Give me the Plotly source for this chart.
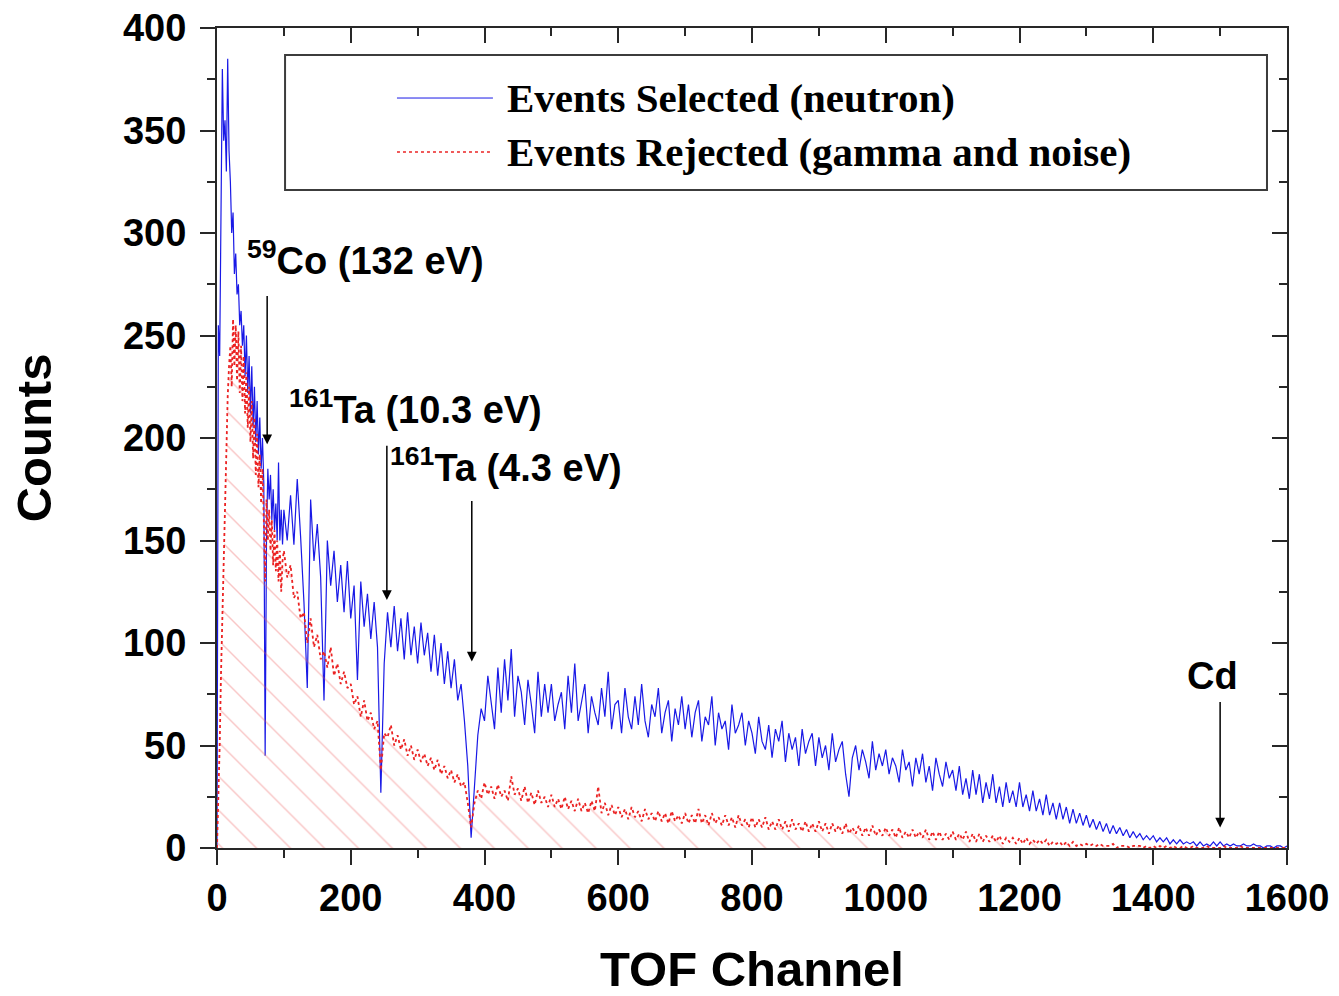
import plotly.graph_objects as go

# TOF channels: 2-channel bins over the fast region, 5-channel bins afterwards
ch_early = list(range(0, 100, 2))
ch_late = list(range(100, 1601, 5))

selected_early = [
    0, 255, 240, 300, 380, 345, 355, 330, 385, 340,
    325, 300, 310, 280, 290, 270, 275, 255, 262, 245,
    255, 230, 250, 222, 240, 212, 235, 205, 225, 198,
    218, 192, 210, 185, 200, 178, 45, 150, 185, 170,
    182, 160, 175, 155, 168, 150, 188, 150, 165, 148,
]
selected_late = [
    165, 150, 172, 148, 180, 152, 120, 78, 170, 140, 158, 132, 72, 150, 128, 145, 120, 138, 115, 140,
    112, 128, 82, 130, 108, 124, 102, 120, 98, 27, 90, 115, 98, 118, 96, 112, 92, 115, 94, 108,
    90, 110, 94, 105, 86, 104, 84, 100, 80, 96, 78, 92, 72, 80, 62, 40, 5, 30, 55, 68,
    62, 84, 70, 58, 88, 66, 92, 72, 97, 64, 84, 76, 60, 82, 70, 56, 86, 64, 80, 66,
    80, 62, 70, 76, 58, 84, 66, 90, 62, 72, 80, 56, 74, 66, 60, 78, 64, 86, 58, 70,
    72, 56, 78, 64, 58, 74, 60, 80, 62, 54, 70, 64, 78, 56, 66, 72, 52, 68, 60, 74,
    58, 70, 54, 66, 72, 52, 64, 60, 74, 50, 66, 58, 62, 48, 70, 56, 60, 66, 50, 62,
    56, 46, 64, 52, 48, 60, 44, 58, 52, 62, 42, 56, 48, 54, 40, 58, 46, 52, 56, 40,
    54, 44, 50, 38, 56, 42, 48, 52, 36, 25, 44, 50, 38, 48, 42, 34, 52, 38, 46, 40,
    48, 36, 44, 40, 32, 48, 38, 42, 30, 44, 36, 46, 32, 40, 28, 44, 36, 30, 42, 34,
    38, 28, 40, 26, 34, 24, 38, 26, 36, 22, 32, 24, 36, 22, 30, 20, 32, 22, 28, 20,
    32, 20, 26, 18, 28, 18, 24, 16, 26, 16, 22, 14, 22, 14, 20, 12, 19, 12, 17, 11,
    16, 10, 14, 9, 13, 8, 12, 7, 11, 7, 10, 6, 9, 5, 8, 5, 7, 4, 6, 4,
    6, 3, 5, 3, 5, 2, 4, 2, 4, 2, 3, 2, 3, 1, 3, 1, 2, 1, 3, 1,
    3, 1, 2, 1, 2, 1, 1, 2, 1, 1, 2, 1, 1, 0, 1, 1, 0, 1, 1, 0,
    1,
]

rejected_early = [
    0, 20, 50, 85, 115, 145, 175, 200, 220, 235,
    245, 225, 258, 235, 255, 228, 252, 222, 245, 218,
    240, 212, 232, 205, 225, 198, 218, 190, 210, 182,
    202, 176, 192, 168, 185, 160, 130, 170, 150, 165,
    145, 160, 138, 155, 135, 150, 130, 145, 125, 140,
]
rejected_late = [
    145, 132, 138, 122, 125, 112, 115, 100, 112, 98, 104, 92, 96, 88, 98, 84, 90, 80, 86, 78,
    80, 70, 74, 64, 72, 62, 66, 58, 62, 38, 56, 54, 60, 50, 55, 48, 53, 45, 50, 43,
    48, 42, 46, 40, 44, 38, 43, 36, 40, 34, 38, 32, 36, 30, 32, 22, 10, 22, 28, 24,
    32, 26, 30, 24, 31, 25, 28, 23, 35, 26, 29, 23, 30, 22, 27, 21, 28, 22, 25, 20,
    26, 20, 24, 19, 25, 19, 23, 18, 24, 18, 22, 17, 23, 18, 30, 17, 22, 16, 21, 16,
    20, 15, 19, 14, 20, 15, 18, 13, 19, 14, 17, 13, 18, 13, 17, 12, 18, 13, 16, 12,
    17, 12, 16, 12, 19, 12, 16, 11, 17, 12, 15, 11, 16, 11, 15, 10, 16, 11, 14, 10,
    15, 10, 14, 10, 15, 9, 13, 9, 14, 9, 13, 8, 14, 9, 12, 8, 13, 8, 12, 8,
    13, 8, 12, 7, 12, 8, 11, 7, 12, 7, 10, 7, 11, 6, 10, 6, 11, 6, 9, 6,
    10, 6, 9, 5, 10, 5, 8, 5, 9, 5, 8, 5, 9, 4, 8, 4, 8, 4, 7, 4,
    8, 4, 7, 4, 8, 3, 7, 3, 7, 3, 6, 3, 6, 3, 6, 2, 5, 3, 5, 2,
    5, 2, 5, 2, 4, 2, 4, 2, 4, 1, 3, 2, 3, 1, 3, 1, 3, 1, 2, 1,
    2, 1, 2, 1, 2, 1, 1, 1, 2, 0, 1, 1, 1, 0, 1, 1, 1, 0, 1, 0,
    1, 0, 1, 0, 1, 0, 1, 0, 0, 1, 0, 0, 1, 0, 0, 0, 1, 0, 0, 0,
    0, 1, 0, 0, 0, 0, 1, 0, 0, 0, 0, 0, 0, 0, 0, 0, 0, 0, 0, 0,
    0,
]

channels = ch_early + ch_late
selected = selected_early + selected_late
rejected = rejected_early + rejected_late

# resonance markers: (label, channel, label x, label y, arrow start y, arrow end y)
resonances = [
    ("<sup>59</sup>Co (132 eV)", 75, 42, 288, 270, 197),
    ("<sup>161</sup>Ta (10.3 eV)", 254, 105, 215, 197, 121),
    ("<sup>161</sup>Ta (4.3 eV)", 381, 256, 187, 170, 91),
    ("Cd", 1500, 1489, 84, 72, 10),
]

BLUE = "rgb(25,25,230)"
RED = "rgb(235,35,35)"
AXC = "rgb(40,40,40)"
SANS = "Liberation Sans, Arial, sans-serif"
SERIF = "Liberation Serif, Times New Roman, serif"

fig = go.Figure()

fig.add_trace(go.Scatter(
    x=channels, y=selected, mode="lines", name="Events Selected (neutron)",
    line=dict(color=BLUE, width=1.2), showlegend=False,
))
fig.add_trace(go.Scatter(
    x=channels, y=rejected, mode="lines", name="Events Rejected (gamma and noise)",
    line=dict(color=RED, width=1.8, dash="dot"), showlegend=False,
    fill="tozeroy", fillcolor="rgba(0,0,0,0)",
    fillpattern=dict(shape="\\", fgcolor="rgba(235,90,90,0.7)", size=24, solidity=0.06),
))
# carrier trace for the mirrored (top/right) axes
fig.add_trace(go.Scatter(x=[None], y=[None], xaxis="x2", yaxis="y2",
                         showlegend=False, hoverinfo="skip"))

for label, ch, lx, ly, y0, y1 in resonances:
    fig.add_annotation(
        x=ch, y=y1, ax=ch, ay=y0, xref="x", yref="y", axref="x", ayref="y",
        text="", showarrow=True, arrowhead=2, arrowsize=1.3, arrowwidth=1.5,
        arrowcolor="black",
    )
    fig.add_annotation(
        x=lx, y=ly, xref="x", yref="y", text=f"<b>{label}</b>", showarrow=False,
        xanchor="left" if label != "Cd" else "center", yanchor="middle",
        font=dict(family=SANS, size=38, color="black"),
    )

# legend frame and samples
fig.add_shape(type="rect", xref="paper", yref="paper", x0=0.0636, x1=0.9813,
              y0=0.8024, y1=0.9671, line=dict(color="rgb(60,60,60)", width=2),
              fillcolor="white", layer="above")
fig.add_shape(type="line", xref="paper", yref="paper", x0=0.1682, x1=0.2579,
              y0=0.9146, y1=0.9146, line=dict(color=BLUE, width=1), layer="above")
fig.add_shape(type="line", xref="paper", yref="paper", x0=0.1682, x1=0.2551,
              y0=0.8488, y1=0.8488, line=dict(color=RED, width=1.6, dash="dot"),
              layer="above")
for txt, yy in [("Events Selected (neutron)", 0.9146),
                ("Events Rejected (gamma and noise)", 0.8488)]:
    fig.add_annotation(x=0.2692, y=yy, xref="paper", yref="paper", text=f"<b>{txt}</b>",
                       showarrow=False, xanchor="left", yanchor="middle",
                       font=dict(family=SERIF, size=41, color="black"))

axis_common = dict(showgrid=False, zeroline=False, showline=True, linewidth=2,
                   linecolor=AXC, tickcolor=AXC, tickwidth=2, ticklen=15,
                   automargin=False)

fig.update_layout(
    width=1339, height=996,
    margin=dict(l=217, r=52, t=28, b=148),
    paper_bgcolor="white", plot_bgcolor="white",
    xaxis=dict(range=[0, 1600], dtick=200, tick0=0, ticks="outside",
               minor=dict(dtick=100, ticks="outside", ticklen=8, tickwidth=2, tickcolor=AXC),
               tickfont=dict(family=SANS, size=38, color="black", weight="bold"),
               title=dict(text="<b>TOF Channel</b>", standoff=40,
                          font=dict(family=SANS, size=49, color="black")),
               **axis_common),
    yaxis=dict(range=[0, 400], dtick=50, tick0=0, ticks="outside",
               ticklabelstandoff=6,
               minor=dict(dtick=25, ticks="outside", ticklen=8, tickwidth=2, tickcolor=AXC),
               tickfont=dict(family=SANS, size=38, color="black", weight="bold"),
               title=dict(text="<b>Counts</b>", standoff=56,
                          font=dict(family=SANS, size=49, color="black")),
               **axis_common),
    xaxis2=dict(range=[0, 1600], overlaying="x", side="top", anchor="y2", dtick=200,
                tick0=0, ticks="inside", showticklabels=False,
                minor=dict(dtick=100, ticks="inside", ticklen=8, tickwidth=2, tickcolor=AXC),
                **axis_common),
    yaxis2=dict(range=[0, 400], overlaying="y", side="right", anchor="x2", dtick=50,
                tick0=0, ticks="inside", showticklabels=False,
                minor=dict(dtick=25, ticks="inside", ticklen=8, tickwidth=2, tickcolor=AXC),
                **axis_common),
)

fig.write_html("out.html")
